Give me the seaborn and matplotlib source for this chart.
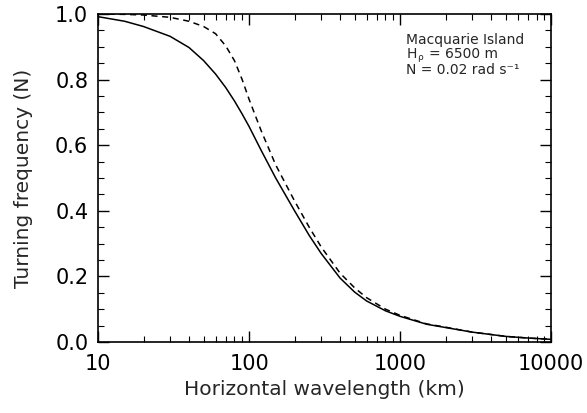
import numpy as np
import pandas as pd
import seaborn as sns
import matplotlib
matplotlib.use("Agg")
import matplotlib.pyplot as plt
from matplotlib.ticker import LogLocator, MultipleLocator, FixedLocator

# horizontal wavelength (km)
wavelength = [10, 15, 20, 30, 40, 50, 60, 70, 80, 90, 100, 120, 150, 200, 250,
              300, 400, 500, 600, 800, 1000, 1500, 2000, 3000, 5000, 7000, 10000]
# turning frequency in units of N
solid_vals = [0.992, 0.978, 0.962, 0.932, 0.898, 0.858, 0.817, 0.776, 0.735, 0.695,
              0.657, 0.585, 0.500, 0.400, 0.325, 0.270, 0.195, 0.152, 0.125, 0.095,
              0.078, 0.054, 0.044, 0.030, 0.017, 0.012, 0.008]
dashed_vals = [1.000, 0.999, 0.997, 0.990, 0.978, 0.962, 0.940, 0.903, 0.858, 0.800,
               0.740, 0.645, 0.540, 0.430, 0.350, 0.290, 0.210, 0.165, 0.135, 0.100,
               0.081, 0.055, 0.045, 0.030, 0.017, 0.012, 0.008]

df = pd.DataFrame({
    "wl": wavelength * 2,
    "f": solid_vals + dashed_vals,
    "case": ["solid"] * len(wavelength) + ["dashed"] * len(wavelength),
})

sns.set_style("ticks")
plt.rcParams["font.family"] = ["DejaVu Sans"]

fig = plt.figure(figsize=(5.87, 4.13), dpi=100)
ax = fig.add_axes([0.167, 0.172, 0.772, 0.794])

sns.lineplot(data=df, x="wl", y="f", style="case", color="black", linewidth=1.1,
             dashes={"solid": "", "dashed": (4, 3)}, legend=False, ax=ax)

ax.set_xscale("log")
ax.set_xlim(10, 10000)
ax.set_ylim(0, 1.0)
ax.xaxis.set_major_locator(FixedLocator([10, 100, 1000, 10000]))
ax.xaxis.set_minor_locator(LogLocator(base=10, subs=np.arange(2, 10)))
ax.set_xticklabels(["10", "100", "1000", "10000"])
ax.yaxis.set_major_locator(MultipleLocator(0.2))
ax.yaxis.set_minor_locator(MultipleLocator(0.05))
ax.yaxis.set_major_formatter(matplotlib.ticker.FormatStrFormatter("%.1f"))

ax.tick_params(which="both", direction="in", top=True, right=True,
               labelsize=15, colors="black", pad=7)
ax.tick_params(axis="x", pad=9)
ax.tick_params(which="major", length=8, width=1)
ax.tick_params(which="minor", length=4, width=0.8)
for s in ax.spines.values():
    s.set_linewidth(1.2)
    s.set_color("black")

ax.set_xlabel("Horizontal wavelength (km)", fontsize=14.5, labelpad=4)
ax.set_ylabel("Turning frequency (N)", fontsize=14.5, labelpad=16)

ax.text(0.68, 0.921, "Macquarie Island", transform=ax.transAxes, fontsize=10, va="center")
ax.text(0.68, 0.877, "H", transform=ax.transAxes, fontsize=10, va="center")
ax.text(0.705, 0.866, "ρ", transform=ax.transAxes, fontsize=6.5, va="center")
ax.text(0.73, 0.877, "= 6500 m", transform=ax.transAxes, fontsize=10, va="center")
ax.text(0.68, 0.829, "N = 0.02 rad s⁻¹", transform=ax.transAxes, fontsize=10, va="center")

fig.savefig("out.png", dpi=100)
